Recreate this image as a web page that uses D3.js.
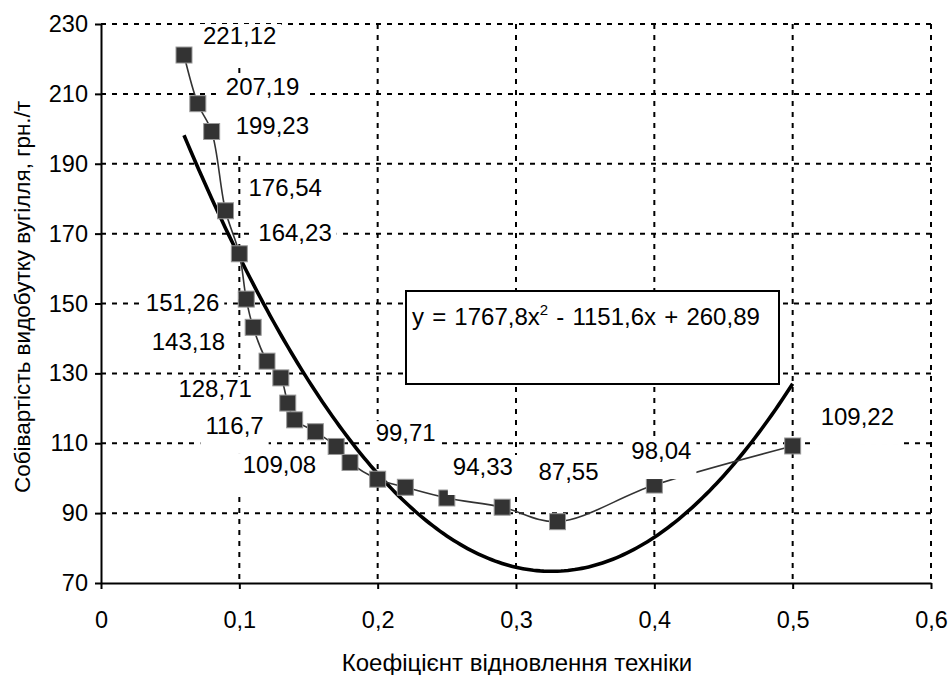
<!DOCTYPE html>
<html>
<head>
<meta charset="utf-8">
<script src="https://cdn.jsdelivr.net/npm/d3@7"></script>
<style>
  body { margin: 0; background: #fff; }
  svg { font-family: "Liberation Sans", Arial, sans-serif; }
</style>
</head>
<body>
<svg width="950" height="675"></svg>
<script>
// data
const kValues = [0.06, 0.07, 0.08, 0.09, 0.10, 0.105, 0.11, 0.12, 0.13, 0.135, 0.14, 0.155, 0.17, 0.18, 0.20, 0.22, 0.25, 0.29, 0.33, 0.40, 0.50];
const costValues = [221.12, 207.19, 199.23, 176.54, 164.23, 151.26, 143.18, 133.5, 128.71, 121.5, 116.7, 113.3, 109.08, 104.5, 99.71, 97.4, 94.33, 91.7, 87.55, 98.04, 109.22];
// which points carry a value label
const labelled = [0, 1, 2, 3, 4, 5, 6, 8, 10, 12, 14, 16, 18, 19, 20];
// printed trend equation: y = 1767,8x^2 - 1151,6x + 260,89
const trendCoef = [1767.8, -1151.6, 260.89];
const trendRange = [0.06, 0.5];
const xTicks = [0, 0.1, 0.2, 0.3, 0.4, 0.5, 0.6];
const yTicks = [70, 90, 110, 130, 150, 170, 190, 210, 230];
const xTitle = "Коефіцієнт відновлення техніки";
const yTitle = "Собівартість видобутку вугілля, грн./т";

// label placement (px offsets from the marker), same order as labelled
const labelOffsets = [
  { dx: 19, dy: -11, anchor: "start" },
  { dx: 28, dy: -9, anchor: "start" },
  { dx: 24, dy: 2, anchor: "start" },
  { dx: 23, dy: -15, anchor: "start" },
  { dx: 19, dy: -13, anchor: "start" },
  { dx: -27, dy: 12, anchor: "end" },
  { dx: -28, dy: 23, anchor: "end" },
  { dx: -29, dy: 19, anchor: "end" },
  { dx: -31, dy: 14, anchor: "end" },
  { dx: -20, dy: 27, anchor: "end" },
  { dx: -2, dy: -38, anchor: "start" },
  { dx: 6, dy: -23, anchor: "start" },
  { dx: -19, dy: -42, anchor: "start" },
  { dx: -23, dy: -26, anchor: "start" },
  { dx: 28, dy: -21, anchor: "start" }
];

const svg = d3.select("svg");
const locale = d3.formatLocale({ decimal: ",", thousands: " ", grouping: [3], currency: ["", ""] });
const fmt = locale.format("~g");

const x = d3.scaleLinear().domain([0, 0.6]).range([101, 931]);
const y = d3.scaleLinear().domain([70, 230]).range([583, 24]);

const data = kValues.map((k, i) => ({ k: k, c: costValues[i] }));

// grid
const grid = svg.append("g").attr("stroke", "#000").attr("stroke-width", 2).attr("stroke-dasharray", "5,6");
grid.selectAll(".hg").data(yTicks.slice(1)).enter().append("line")
  .attr("x1", x(0)).attr("x2", x(0.6))
  .attr("y1", (d) => y(d)).attr("y2", (d) => y(d));
grid.selectAll(".vg").data(xTicks.slice(1)).enter().append("line")
  .attr("x1", (d) => x(d)).attr("x2", (d) => x(d))
  .attr("y1", y(230)).attr("y2", y(70));

// equation box
const eq = svg.append("g");
eq.append("rect").attr("x", 406).attr("y", 291).attr("width", 373).attr("height", 93)
  .attr("fill", "#fff").attr("stroke", "#000").attr("stroke-width", 2);
const eqText = eq.append("text").attr("x", 412).attr("y", 325).attr("font-size", 24)
  .attr("word-spacing", 1.5).attr("fill", "#000");
eqText.append("tspan").text("y = " + fmt(trendCoef[0]) + "x");
eqText.append("tspan").attr("font-size", 15).attr("dy", -10).text("2");
eqText.append("tspan").attr("dy", 10).text(" - " + fmt(-trendCoef[1]) + "x + " + fmt(trendCoef[2]));

// trend line
const trendPts = d3.range(trendRange[0], trendRange[1] + 1e-9, 0.0025)
  .map((k) => ({ k: k, c: trendCoef[0] * k * k + trendCoef[1] * k + trendCoef[2] }));
svg.append("path").datum(trendPts)
  .attr("fill", "none").attr("stroke", "#000").attr("stroke-width", 3.6)
  .attr("d", d3.line().x((d) => x(d.k)).y((d) => y(d.c)));

// series line
svg.append("path").datum(data)
  .attr("fill", "none").attr("stroke", "#333").attr("stroke-width", 1.6)
  .attr("d", d3.line().curve(d3.curveCatmullRom.alpha(0.5)).x((d) => x(d.k)).y((d) => y(d.c)));

// markers
svg.selectAll(".mk").data(data).enter().append("rect")
  .attr("x", (d) => x(d.k) - 8).attr("y", (d) => y(d.c) - 8)
  .attr("width", 16).attr("height", 16)
  .attr("fill", "#333").attr("stroke", "#999").attr("stroke-width", 1);

// value labels with white boxes
const labels = svg.append("g");
labelled.forEach((idx, j) => {
  const d = data[idx];
  const o = labelOffsets[j];
  const px = x(d.k) + o.dx, py = y(d.c) + o.dy;
  const g = labels.append("g");
  const rect = g.append("rect").attr("fill", "#fff");
  const t = g.append("text").attr("x", px).attr("y", py).attr("text-anchor", o.anchor)
    .attr("font-size", 24).attr("fill", "#000").text(String(d.c).replace(".", ","));
  const bb = t.node().getBBox();
  rect.attr("x", bb.x - 5).attr("width", bb.width + 10)
    .attr("y", py - 20).attr("height", 40);
});

// axes
const xAxis = svg.append("g").attr("transform", `translate(0,${y(70)})`)
  .call(d3.axisBottom(x).tickValues(xTicks).tickFormat(fmt).tickSize(6).tickSizeOuter(0).tickPadding(22));
const yAxis = svg.append("g").attr("transform", `translate(${x(0)},0)`)
  .call(d3.axisLeft(y).tickValues(yTicks).tickFormat(fmt).tickSize(6).tickSizeOuter(0).tickPadding(7));
[xAxis, yAxis].forEach((a) => {
  a.select(".domain").attr("stroke", "#000").attr("stroke-width", 2);
  a.selectAll(".tick line").attr("stroke", "#000").attr("stroke-width", 2);
  a.selectAll(".tick text").attr("font-size", 23.5).attr("fill", "#000")
    .style("font-family", "'Liberation Sans', Arial, sans-serif");
});

// titles
svg.append("text").attr("x", 517).attr("y", 671).attr("text-anchor", "middle")
  .attr("font-size", 24).attr("fill", "#000").text(xTitle);
svg.append("text").attr("transform", "translate(30,297) rotate(-90)").attr("text-anchor", "middle")
  .attr("font-size", 22.5).attr("fill", "#000").text(yTitle);
</script>
</body>
</html>
